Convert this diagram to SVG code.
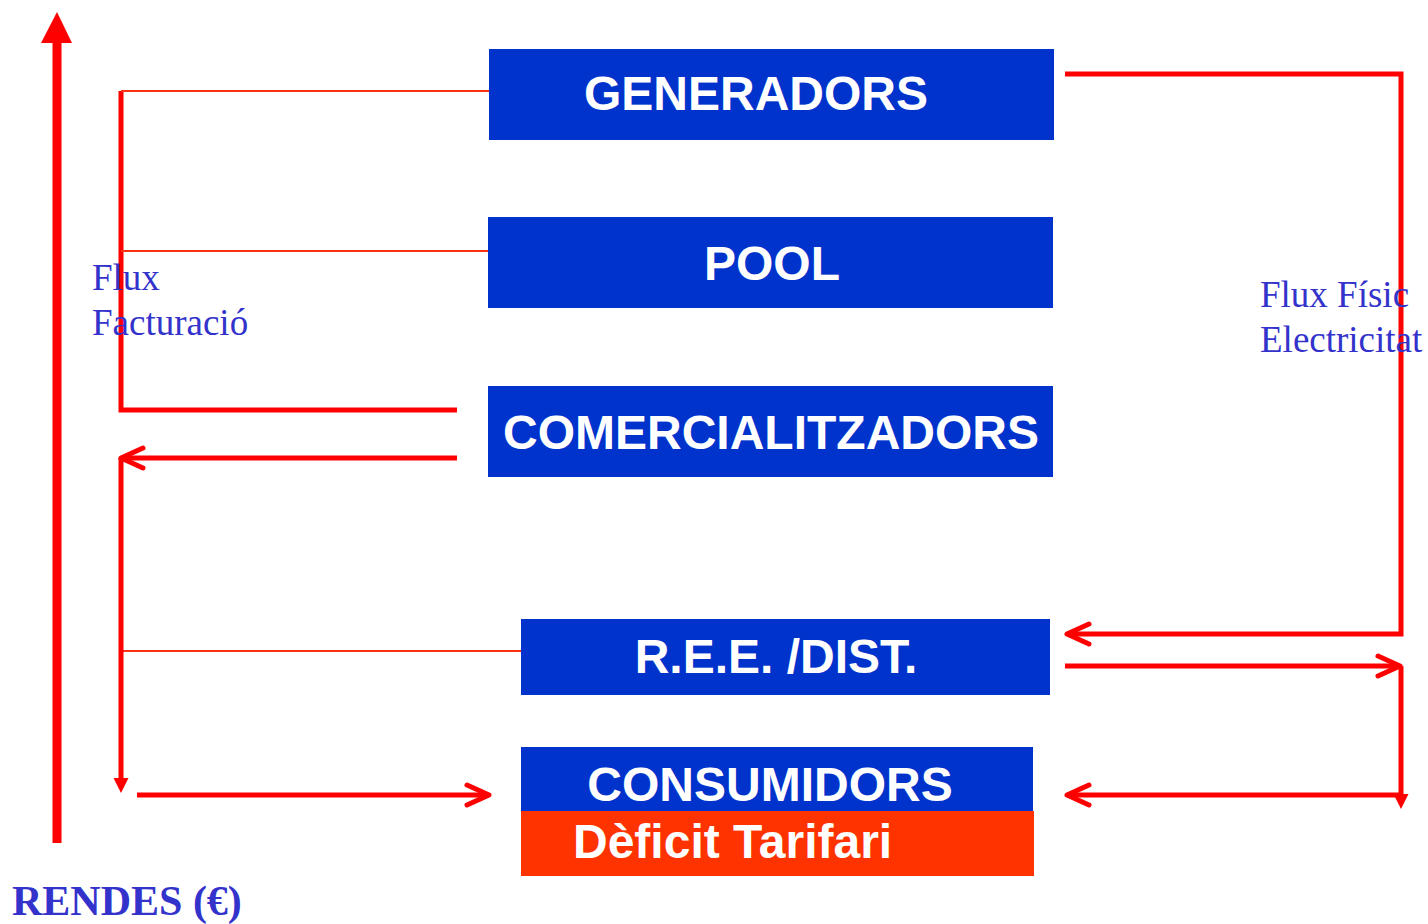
<svg xmlns="http://www.w3.org/2000/svg" width="1428" height="924" viewBox="0 0 1428 924">
<style>
.box{fill:#0033CC}
.red{fill:#FF3300}
.t{font-family:"Liberation Sans",Arial,sans-serif;font-weight:bold;font-size:48px;fill:#FFFFFF}
.lbl{font-family:"Liberation Serif","Times New Roman",serif;font-size:37px;fill:#3333CC}
.ttl{font-family:"Liberation Serif","Times New Roman",serif;font-weight:bold;font-size:42px;fill:#3333CC}
.c{fill:none;stroke:#FF0000;stroke-width:5;stroke-linejoin:miter}
.thin{fill:none;stroke:#FF3311;stroke-width:2}
</style>
<defs>
<marker id="chev" markerUnits="userSpaceOnUse" markerWidth="50" markerHeight="50" viewBox="-30 -25 50 50" refX="0" refY="0" orient="auto" overflow="visible">
<path d="M-22,-10 L0,0 L-22,10" fill="none" stroke="#FF0000" stroke-width="5" stroke-linecap="round" stroke-linejoin="round"/>
</marker>
<marker id="tri" markerUnits="userSpaceOnUse" markerWidth="40" markerHeight="40" viewBox="-5 -20 40 40" refX="0" refY="0" orient="auto" overflow="visible">
<path d="M0,-7.5 L15,0 L0,7.5 Z" fill="#FF0000"/>
</marker>
</defs>
<rect width="1428" height="924" fill="#FFFFFF"/>
<g id="connectors">
<path d="M57,843 V40" fill="none" stroke="#FF0000" stroke-width="9"/>
<path d="M41,43 L57,12 L72,43 Z" fill="#FF0000"/>
<path class="c" d="M457,410 H121 V91"/>
<path class="thin" d="M121,91 H489"/>
<path class="thin" d="M121,251 H488"/>
<path class="thin" d="M121,651 H521"/>
<path class="c" d="M457,458 H121" marker-end="url(#chev)"/>
<path class="c" d="M121,458 V778" marker-end="url(#tri)"/>
<path class="c" d="M137,795 H489" marker-end="url(#chev)"/>
<path class="c" d="M1065,74 H1401 V634 H1067" marker-end="url(#chev)"/>
<path class="c" d="M1065,666 H1400" marker-end="url(#chev)"/>
<path class="c" d="M1401,666 V794" marker-end="url(#tri)"/>
<path class="c" d="M1401,795 H1067" marker-end="url(#chev)"/>
</g>
<g id="generadors">
<rect class="box" x="489" y="49" width="565" height="91"/>
<text class="t" x="756" y="110" text-anchor="middle">GENERADORS</text>
</g>
<g id="pool">
<rect class="box" x="488" y="217" width="565" height="91"/>
<text class="t" x="772" y="280" text-anchor="middle">POOL</text>
</g>
<g id="comercialitzadors">
<rect class="box" x="488" y="386" width="565" height="91"/>
<text class="t" x="771" y="449" text-anchor="middle">COMERCIALITZADORS</text>
</g>
<g id="ree">
<rect class="box" x="521" y="619" width="529" height="76"/>
<text class="t" x="776" y="673" text-anchor="middle">R.E.E. /DIST.</text>
</g>
<g id="consumidors">
<rect class="box" x="521" y="747" width="512" height="65"/>
<rect class="red" x="521" y="811" width="513" height="65"/>
<text class="t" x="770" y="801" text-anchor="middle">CONSUMIDORS</text>
<text class="t" x="573" y="858">Dèficit Tarifari</text>
</g>
<g id="labels">
<text class="lbl" x="92" y="290">Flux</text>
<text class="lbl" x="92" y="335">Facturació</text>
<text class="lbl" x="1260" y="307">Flux Físic</text>
<text class="lbl" x="1260" y="352">Electricitat</text>
<text class="ttl" x="12" y="915">RENDES (€)</text>
</g>
</svg>
